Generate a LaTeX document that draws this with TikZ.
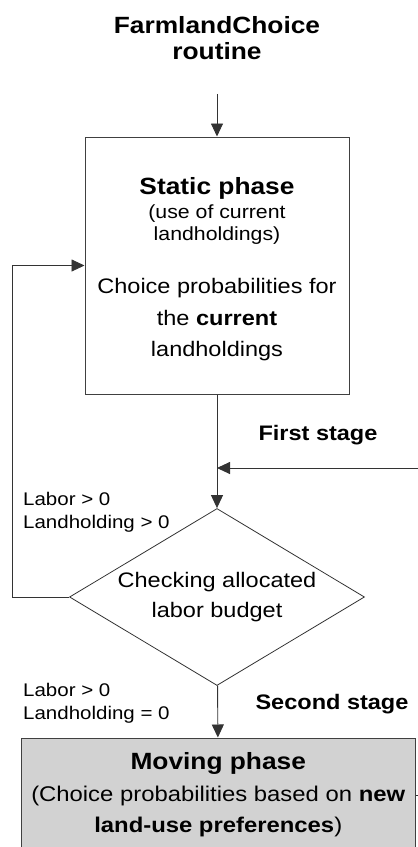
\documentclass[tikz,border=0pt]{standalone}
\usepackage{fontspec}
\setmainfont{Liberation Sans}[FakeStretch=1.12]
\usetikzlibrary{arrows.meta, positioning, shapes.geometric}

\begin{document}
\begin{tikzpicture}[
    x=1pt, y=-1pt,
    phasebox/.style={draw=black!75, line width=1pt, align=center, inner sep=0pt},
    decision/.style={diamond, draw=black!80, line width=0.8pt, align=center, inner sep=0pt, aspect=1.67,
      minimum width=295pt, minimum height=177pt, font=\fontsize{21}{30}\selectfont},
    cond/.style={anchor=west, align=left, inner sep=0pt, font=\fontsize{18.3}{23}\selectfont},
    stagelbl/.style={inner sep=0pt, font=\fontsize{21}{24}\selectfont\bfseries},
    flow/.style={-{Triangle[length=13pt, width=12pt]}, draw=black!80, line width=0.9pt},
]
  \useasboundingbox (0,0) rectangle (418,847);
  \clip (0,0) rectangle (418,847);

  \node[align=center, inner sep=0pt, font=\fontsize{23.5}{26}\selectfont\bfseries] (routine) at (217,38) {FarmlandChoice\\routine};

  \node[phasebox, minimum width=264pt, minimum height=257pt, font=\fontsize{21}{31}\selectfont] (static) at (217,265.5) {
    {\fontsize{23.5}{26}\selectfont\bfseries\rule{0pt}{23.5pt}Static phase}\\[-7pt]
    {\fontsize{19}{22}\selectfont (use of current}\\[-9pt]
    {\fontsize{19}{22}\selectfont landholdings)}\\[22pt]
    Choice probabilities for\\[1pt]
    the \textbf{current}\\
    landholdings
  };

  \node[decision] (check) at (217,597) {Checking allocated\\labor budget};

  \node[phasebox, fill=gray!35, minimum width=393.5pt, minimum height=114pt, font=\fontsize{21.3}{31.5}\selectfont] (moving) at (218.25,795) {
    {\fontsize{23.5}{26}\selectfont\bfseries Moving phase}\\
    (Choice probabilities based on \textbf{new}\\
    \textbf{land-use preferences})
  };

  \node[stagelbl] (first) at (318,435) {First stage};
  \node[stagelbl] (second) at (332,704) {Second stage};
  \node[cond] (keep) at (23,512) {Labor > 0\\Landholding > 0};
  \node[cond] (move) at (23,703) {Labor > 0\\Landholding = 0};

  \coordinate (entry) at (217,468);

  \draw[flow, shorten <=34pt] (routine) -- (static);
  \draw[flow] (static) -- (check);
  \draw[flow] (moving.east) -- ++(20,0) |- (entry);
  \draw[flow] (check.west) -- ++(-57,0) |- (static.west);
  \draw[flow] (check) -- (moving);
\end{tikzpicture}
\end{document}
